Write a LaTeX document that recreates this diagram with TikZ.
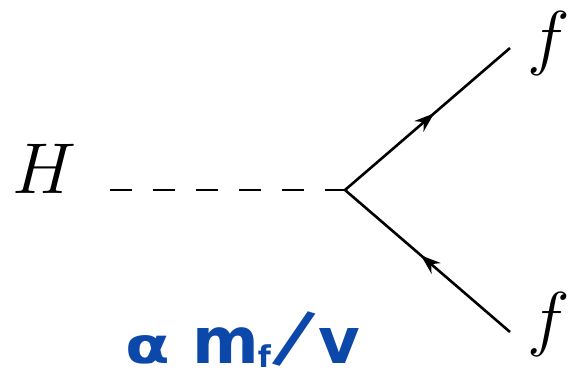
\RequirePackage{fix-cm}
\documentclass[tikz,border=0pt]{standalone}
\usepackage{fontspec}
\newfontfamily\bluefont{DejaVu Sans}
\usetikzlibrary{arrows.meta,decorations.markings}
\definecolor{labelblue}{RGB}{12,72,170}
\tikzset{
  fermion/.style={line width=2.6pt,postaction={decorate},decoration={markings,
    mark=at position 0.54 with {\arrow{Stealth[length=20pt,width=14pt]}}}},
  scalar/.style={line width=2.6pt,dash pattern=on 22pt off 21pt},
  lbl/.style={inner sep=0pt,anchor=base,font=\fontsize{72}{80}\selectfont},
  blue/.style={inner sep=0pt,anchor=base west,text=labelblue,font=\bluefont\bfseries\fontsize{64}{70}\selectfont},
}
\begin{document}
\begin{tikzpicture}[x=1pt,y=-1pt]
\useasboundingbox (0,0) rectangle (569,374);
\coordinate (v) at (345,190);
\coordinate (hs) at (110,190);
\coordinate (ft) at (510,48);
\coordinate (fb) at (510,332);
\node[lbl] (H) at (44,193) {$H$};
\node[lbl] (ftl) at (549,62) {$f$};
\node[lbl] (fbl) at (549,342) {$f$};
\draw[scalar] (hs) -- (v);
\draw[fermion] (v) -- (ft);
\draw[fermion] (fb) -- (v);
\node[blue] (alpha) at (125,363) {\scalebox{1.3}[1]{\fontsize{50}{60}\selectfont α}};
\node[blue] (ratio) at (192,363) {m\kern-1pt\raisebox{-4pt}{\fontsize{30}{34}\selectfont f}\kern2pt\raisebox{1pt}{\rotatebox[origin=c]{-17}{\scalebox{1.15}{/}}}\kern2pt v};
\end{tikzpicture}
\end{document}
